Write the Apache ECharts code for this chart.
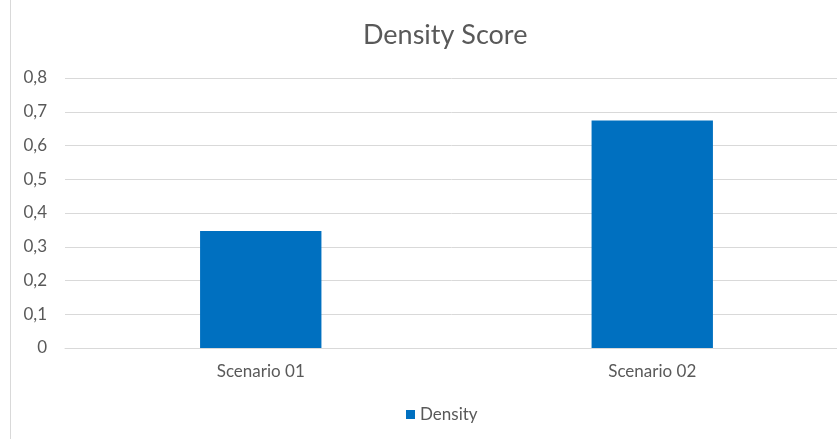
<!DOCTYPE html>
<html><head><meta charset="utf-8">
<script src="https://cdn.jsdelivr.net/npm/echarts@6/dist/echarts.min.js"></script>
<style>html,body{margin:0;padding:0;background:#fff}#c{width:837px;height:439px}</style>
</head><body><div id="c"></div>
<script>
const categories = ['Scenario 01', 'Scenario 02'];
const densityValues = [0.347, 0.674];
const seriesName = 'Density';
const titleText = 'Density Score';

const chart = echarts.init(document.getElementById('c'), null, {renderer: 'canvas'});
const txt = '#595959';
const font = 'Lato, "Open Sans", sans-serif';
chart.setOption({
  animation: false,
  backgroundColor: '#fff',
  graphic: [{type: 'line', shape: {x1: 10.5, y1: 0, x2: 10.5, y2: 439}, style: {stroke: '#d9d9d9', lineWidth: 1}}],
  title: {text: titleText, left: 358, top: 17,
    textStyle: {fontFamily: font, fontSize: 27, fontWeight: 'normal', color: txt}},
  legend: {data: [seriesName], bottom: 11, left: 401, itemWidth: 9, itemHeight: 9, itemGap: 6,
    icon: 'rect', textStyle: {fontFamily: font, fontSize: 17, color: txt}},
  grid: {left: 65, width: 783, top: 78, bottom: 91, containLabel: false, outerBoundsMode: 'none'},
  xAxis: {type: 'category', data: categories,
    axisLine: {lineStyle: {color: '#d9d9d9'}}, axisTick: {show: false},
    axisLabel: {fontFamily: font, fontSize: 17, color: txt, margin: 15}},
  yAxis: {type: 'value', min: 0, max: 0.8, interval: 0.1,
    axisLine: {show: false}, axisTick: {show: false},
    splitLine: {lineStyle: {color: '#d9d9d9', width: 1}},
    axisLabel: {fontFamily: font, fontSize: 17, color: txt, margin: 18, align: 'right',
      formatter: v => v === 0 ? '0' : v.toFixed(1).replace('.', ',')}},
  series: [{name: seriesName, type: 'bar', data: densityValues, barWidth: '31%',
    itemStyle: {color: '#0070c0'}}]
});
</script></body></html>
